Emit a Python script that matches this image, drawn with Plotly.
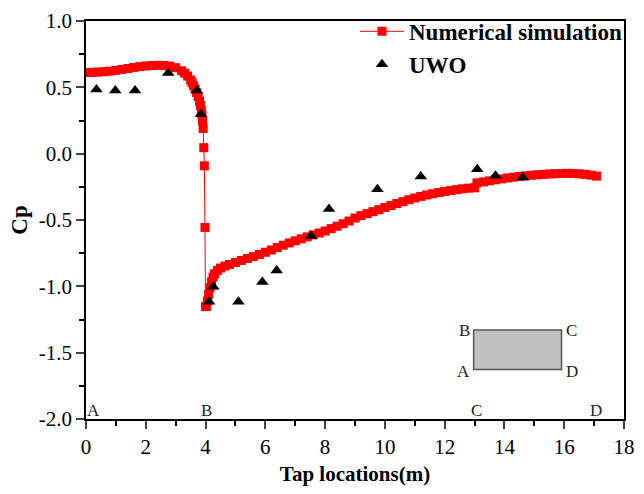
import plotly.graph_objects as go

# Numerical simulation (red squares with thin line)
sim_x = [0.02, 0.2, 0.4, 0.6, 0.8, 1.0, 1.2, 1.4, 1.6, 1.8, 2.0, 2.2, 2.4, 2.6, 2.8,
         3.0, 3.2, 3.3, 3.4, 3.5, 3.55, 3.6, 3.65, 3.7, 3.75, 3.8, 3.83, 3.86, 3.88,
         3.9, 3.92,
         3.94, 3.96, 3.98, 4.0,
         4.03, 4.06, 4.1, 4.15, 4.2, 4.25, 4.3, 4.4, 4.5, 4.65, 4.8, 5.0, 5.2, 5.4,
         5.6, 5.8, 6.0, 6.2, 6.4, 6.6, 6.8, 7.0, 7.2, 7.4, 7.6, 7.8, 8.0, 8.2, 8.4,
         8.6, 8.8, 9.0, 9.2, 9.4, 9.6, 9.8, 10.0, 10.2, 10.4, 10.6, 10.8, 11.0, 11.2,
         11.4, 11.6, 11.8, 12.0, 12.2, 12.4, 12.6, 12.8, 13.0,
         13.08, 13.3, 13.5, 13.7, 13.9, 14.1, 14.3, 14.5, 14.7, 14.9, 15.1, 15.3,
         15.5, 15.7, 15.9, 16.1, 16.3, 16.5, 16.7, 16.9, 17.08]
sim_cp = [0.612, 0.613, 0.615, 0.618, 0.622, 0.628, 0.635, 0.642, 0.650, 0.656, 0.661,
          0.664, 0.666, 0.665, 0.660, 0.648, 0.625, 0.607, 0.585, 0.555, 0.535, 0.512,
          0.488, 0.460, 0.430, 0.395, 0.365, 0.325, 0.290, 0.245, 0.190,
          0.045, -0.092, -0.556, -1.153,
          -1.150, -1.110, -1.060, -1.010, -0.965, -0.930, -0.905, -0.880, -0.862,
          -0.847, -0.835, -0.820, -0.805, -0.790, -0.776, -0.760, -0.743, -0.726,
          -0.708, -0.690, -0.673, -0.657, -0.642, -0.627, -0.612, -0.598, -0.583,
          -0.565, -0.547, -0.528, -0.508, -0.485, -0.467, -0.452, -0.437, -0.422,
          -0.406, -0.391, -0.376, -0.362, -0.347, -0.334, -0.322, -0.311, -0.302,
          -0.293, -0.285, -0.278, -0.271, -0.265, -0.260, -0.257,
          -0.220, -0.213, -0.205, -0.197, -0.190, -0.183, -0.177, -0.172, -0.167,
          -0.163, -0.159, -0.156, -0.153, -0.151, -0.149, -0.148, -0.149, -0.152,
          -0.156, -0.162, -0.169]

# UWO wind tunnel data (black triangles)
uwo_x = [0.35, 0.98, 1.64, 2.75, 3.71, 3.85, 4.12, 4.26, 5.10, 5.90, 6.38, 7.53,
         8.13, 9.75, 11.2, 13.09, 13.70, 14.61]
uwo_cp = [0.484, 0.476, 0.476, 0.608, 0.476, 0.298, -1.116, -1.004, -1.116, -0.967,
          -0.880, -0.620, -0.417, -0.268, -0.173, -0.117, -0.166, -0.179]

# Corner labels along the x axis
corner_labels = ["A", "B", "C", "D"]
corner_x = [0.24, 4.03, 13.08, 17.05]

# Inset building plan
inset_x = [12.97, 15.91]
inset_y = [-1.626, -1.33]

x_ticks = [0, 2, 4, 6, 8, 10, 12, 14, 16, 18]
y_ticks = [-2.0, -1.5, -1.0, -0.5, 0.0, 0.5, 1.0]
y_ticklabels = ["-2.0", "-1.5", "-1.0", "-0.5", "0.0", "0.5", "1.0"]

SERIF = "Liberation Serif, Times New Roman, serif"

fig = go.Figure()
fig.add_trace(go.Scatter(
    x=sim_x, y=sim_cp, mode="lines+markers", name="<b>Numerical simulation</b>",
    line=dict(color="#ff0000", width=1),
    marker=dict(symbol="square", size=9, color="#ff0000", line=dict(width=0)),
))
fig.add_trace(go.Scatter(
    x=uwo_x, y=uwo_cp, mode="markers", name="<b>UWO</b>",
    marker=dict(symbol="triangle-up", size=11, color="black", line=dict(width=0)),
))

# inset rectangle
fig.add_shape(type="rect", x0=inset_x[0], x1=inset_x[1], y0=inset_y[0], y1=inset_y[1],
              xref="x", yref="y", fillcolor="#c0c0c0",
              line=dict(color="#555555", width=1.5), layer="above")

annots = []
for lab, xv in zip(corner_labels, corner_x):
    annots.append(dict(x=xv, y=-2.0, xref="x", yref="y", text=lab, showarrow=False,
                       yanchor="bottom", xanchor="center", yshift=-3,
                       font=dict(family=SERIF, size=17, color="#222222")))
inset_lab = [("B", inset_x[0], inset_y[1], "right"), ("A", inset_x[0], inset_y[0], "right"),
             ("C", inset_x[1], inset_y[1], "left"), ("D", inset_x[1], inset_y[0], "left")]
for lab, xv, yv, anc in inset_lab:
    annots.append(dict(x=xv, y=yv, xref="x", yref="y", text=lab, showarrow=False,
                       xanchor=anc, yanchor="middle", xshift=(-2 if anc == "right" else 2),
                       yshift=(-2 if lab in "AD" else 0),
                       font=dict(family=SERIF, size=17, color="#222222")))

fig.update_layout(
    width=644, height=494,
    margin=dict(l=86, r=9, t=16, b=75),
    paper_bgcolor="white", plot_bgcolor="white",
    showlegend=True,
    legend=dict(x=0.50, y=1.028, xanchor="left", yanchor="top",
                bgcolor="rgba(0,0,0,0)", font=dict(family=SERIF, size=23, color="black"),
                tracegroupgap=0, itemwidth=44),
    annotations=annots,
    font=dict(family=SERIF, color="black"),
)
fig.update_xaxes(
    range=[0, 18], tickvals=x_ticks, ticks="outside", ticklen=8, tickwidth=1.5,
    showline=True, linecolor="black", linewidth=1.5, mirror=True, showgrid=False,
    zeroline=False, tickfont=dict(family=SERIF, size=21, color="black"),
    minor=dict(dtick=1, ticks="outside", ticklen=5, tickwidth=1.5, tickcolor="black", showgrid=False),
    title=dict(text="<b>Tap locations(m)</b>", font=dict(family=SERIF, size=21, color="black"),
               standoff=8),
)
fig.update_yaxes(
    range=[-2.0, 1.0], tickvals=y_ticks, ticktext=y_ticklabels, ticks="outside",
    ticklen=8, tickwidth=1.5, showline=True, linecolor="black", linewidth=1.5,
    mirror=True, showgrid=False, zeroline=False,
    tickfont=dict(family=SERIF, size=21, color="black"),
    minor=dict(dtick=0.25, ticks="outside", ticklen=5, tickwidth=1.5, tickcolor="black", showgrid=False),
    title=dict(text="<b>Cp</b>", font=dict(family=SERIF, size=23, color="black"), standoff=5),
)

fig.write_html("out.html")
